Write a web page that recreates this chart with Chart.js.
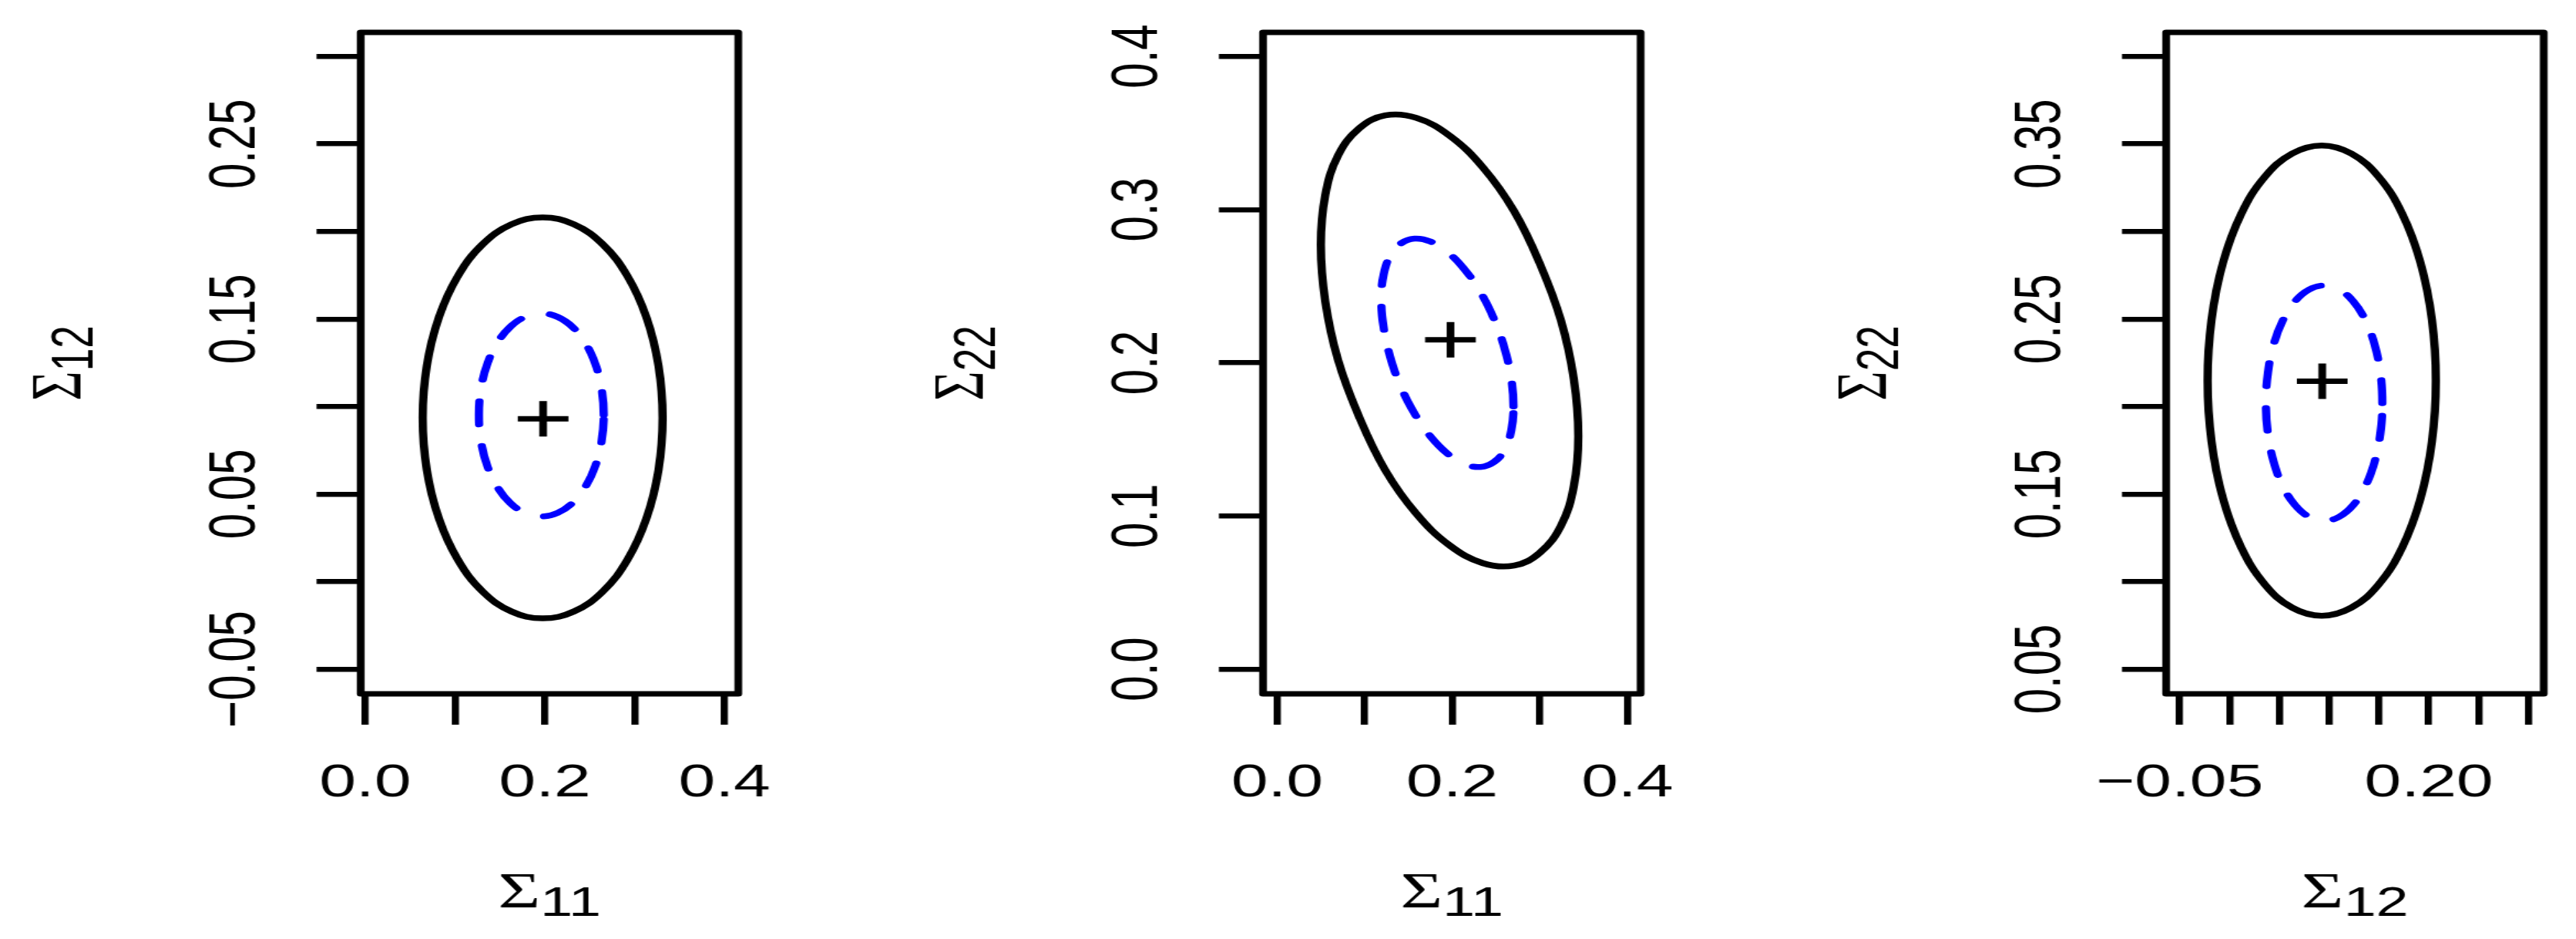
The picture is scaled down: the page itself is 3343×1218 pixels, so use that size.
<!DOCTYPE html>
<html>
<head>
<meta charset="utf-8">
<script src="https://cdn.jsdelivr.net/npm/chart.js@4.4.1/dist/chart.umd.min.js"></script>
<style>
  html, body { margin: 0; padding: 0; background: #fff; overflow: hidden; }
  #page { position: relative; width: 3343px; height: 1218px; }
  canvas { position: absolute; top: 0; }
</style>
</head>
<body>
<div id="page">
  <!-- each panel is drawn 700 wide and stretched to 1001px, like the original picture -->
  <canvas id="panel1" width="700" height="1218" style="left:0px;width:1001px;height:1218px"></canvas>
  <canvas id="panel2" width="700" height="1218" style="left:1171px;width:1001px;height:1218px"></canvas>
  <canvas id="panel3" width="700" height="1218" style="left:2343px;width:1001px;height:1218px"></canvas>
</div>
<script>
// ---- data ----
// panel 1: Sigma11 (x) vs Sigma12 (y)
const p1Outer = [[0.331,0.0935],[0.3265,0.1231],[0.3131,0.1508],[0.2919,0.1745],[0.2643,0.1927],[0.2321,0.2041],[0.1975,0.208],[0.1629,0.2041],[0.1307,0.1927],[0.1031,0.1745],[0.0819,0.1508],[0.0685,0.1231],[0.064,0.0935],[0.0685,0.0639],[0.0819,0.0362],[0.1031,0.0125],[0.1307,-0.0057],[0.1629,-0.0171],[0.1975,-0.021],[0.2321,-0.0171],[0.2643,-0.0057],[0.2919,0.0125],[0.3131,0.0362],[0.3265,0.0639]];
const p1Inner = [[0.2655,0.0952],[0.2631,0.1102],[0.2562,0.1242],[0.2451,0.1362],[0.2308,0.1454],[0.214,0.1512],[0.196,0.1532],[0.178,0.1512],[0.1612,0.1454],[0.1469,0.1362],[0.1358,0.1242],[0.1289,0.1102],[0.1265,0.0952],[0.1289,0.0802],[0.1358,0.0662],[0.1469,0.0542],[0.1612,0.045],[0.178,0.0392],[0.196,0.0372],[0.214,0.0392],[0.2308,0.045],[0.2451,0.0542],[0.2562,0.0662],[0.2631,0.0802]];
const p1Centre = [0.198, 0.093];
const p1XTicks = [0, 0.1, 0.2, 0.3, 0.4];
const p1XLabels = ['0.0', '', '0.2', '', '0.4'];
const p1YTicks = [-0.05, 0, 0.05, 0.1, 0.15, 0.2, 0.25, 0.3];
const p1YLabels = ['\u22120.05', '', '0.05', '', '0.15', '', '0.25', ''];

// panel 2: Sigma11 (x) vs Sigma22 (y)
const p2Outer = [[0.344,0.1522],[0.339,0.1889],[0.3243,0.2274],[0.2999,0.2649],[0.2705,0.2991],[0.235,0.3275],[0.197,0.3482],[0.159,0.3598],[0.1235,0.3614],[0.0941,0.3531],[0.0697,0.3353],[0.055,0.3093],[0.05,0.2768],[0.055,0.2401],[0.0697,0.2016],[0.0941,0.1641],[0.1235,0.1299],[0.159,0.1015],[0.197,0.0808],[0.235,0.0692],[0.2705,0.0676],[0.2999,0.0759],[0.3243,0.0937],[0.339,0.1197]];
const p2Inner = [[0.27,0.1715],[0.2674,0.1897],[0.2599,0.2091],[0.2479,0.2283],[0.2323,0.246],[0.214,0.261],[0.1945,0.2723],[0.175,0.2791],[0.1568,0.281],[0.1411,0.2777],[0.1291,0.2697],[0.1216,0.2573],[0.119,0.2415],[0.1216,0.2233],[0.1291,0.2039],[0.1411,0.1847],[0.1568,0.167],[0.175,0.152],[0.1945,0.1407],[0.214,0.1339],[0.2323,0.132],[0.2479,0.1353],[0.2599,0.1433],[0.2674,0.1557]];
const p2Centre = [0.198, 0.215];
const p2XTicks = [0, 0.1, 0.2, 0.3, 0.4];
const p2XLabels = ['0.0', '', '0.2', '', '0.4'];
const p2YTicks = [0, 0.1, 0.2, 0.3, 0.4];
const p2YLabels = ['0.0', '0.1', '0.2', '0.3', '0.4'];

// panel 3: Sigma12 (x) vs Sigma22 (y)
const p3Outer = [[0.207,0.2148],[0.2031,0.2496],[0.1917,0.282],[0.1735,0.3098],[0.1498,0.3311],[0.1221,0.3445],[0.0925,0.3491],[0.0629,0.3445],[0.0352,0.3311],[0.0115,0.3098],[-0.0067,0.282],[-0.0181,0.2496],[-0.022,0.2148],[-0.0181,0.18],[-0.0067,0.1476],[0.0115,0.1198],[0.0352,0.0985],[0.0629,0.0851],[0.0925,0.0805],[0.1221,0.0851],[0.1498,0.0985],[0.1735,0.1198],[0.1917,0.1476],[0.2031,0.18]];
const p3Inner = [[0.1533,0.2019],[0.1513,0.2193],[0.1455,0.2355],[0.1362,0.2494],[0.1241,0.2601],[0.11,0.2668],[0.0949,0.2691],[0.0798,0.2668],[0.0657,0.2601],[0.0536,0.2494],[0.0443,0.2355],[0.0385,0.2193],[0.0365,0.2019],[0.0385,0.1845],[0.0443,0.1683],[0.0536,0.1544],[0.0657,0.1437],[0.0798,0.137],[0.0949,0.1347],[0.11,0.137],[0.1241,0.1437],[0.1362,0.1544],[0.1455,0.1683],[0.1513,0.1845]];
const p3Centre = [0.093, 0.2145];
const p3XTicks = [-0.05, 0, 0.05, 0.1, 0.15, 0.2, 0.25, 0.3];
const p3XLabels = ['\u22120.05', '', '', '', '', '0.20', '', ''];
const p3YTicks = [0.05, 0.1, 0.15, 0.2, 0.25, 0.3, 0.35, 0.4];
const p3YLabels = ['0.05', '', '0.15', '', '0.25', '', '0.35', ''];

// ---- layout (canvas units) ----
const FONT = '"Liberation Sans", Arial, sans-serif';
const AREA_LEFT = 327.3;
const AREA_RIGHT_PAD = 25.5;
const AREA_TOP = 42;
const X_AXIS_H = 318;
const TICK_LEN = 40;
const Y_LABEL_OFFSET = 113.3; // plot edge to middle of the rotated y labels
const HIDDEN = 'rgba(0,0,0,0)';

// closed curve: one point of overlap on each side so the spline has
// proper neighbours where it closes; the two extra segments are hidden
function loopPoints(pts) {
    const n = pts.length;
    const seq = [pts[n - 1]].concat(pts, [pts[0], pts[1]]);
    return seq.map(([x, y]) => ({ x: x, y: y }));
}

function hideEnds(n) {
    return {
        borderColor: (ctx) => (ctx.p0DataIndex === 0 || ctx.p0DataIndex === n + 1 ? HIDDEN : undefined),
    };
}

function widestLabel(labels) {
    const ctx = document.createElement('canvas').getContext('2d');
    ctx.font = '60px ' + FONT;
    let w = 0;
    labels.forEach((l) => {
        w = Math.max(w, ctx.measureText(l).width);
    });
    return w;
}

// draws "Sigma" with a subscript, centred on (cx, baseY)
function drawSigma(ctx, parts, cx, baseY, angle) {
    ctx.save();
    ctx.translate(cx, baseY);
    ctx.rotate(angle);
    ctx.font = '66px "Liberation Serif", serif';
    const w1 = ctx.measureText(parts[0]).width;
    ctx.font = '53px ' + FONT;
    const w2 = ctx.measureText(parts[1]).width;
    const x0 = -(w1 + w2) / 2;
    ctx.font = '66px "Liberation Serif", serif';
    ctx.fillText(parts[0], x0, 0);
    ctx.font = '53px ' + FONT;
    ctx.fillText(parts[1], x0 + w1, 11);
    ctx.restore();
}

const boxPlugin = {
    id: 'plotBox',
    afterDatasetsDraw(chart) {
        const { ctx, chartArea: a } = chart;
        ctx.save();
        ctx.strokeStyle = '#000';
        ctx.lineWidth = 7;
        ctx.lineJoin = 'round';
        ctx.strokeRect(a.left, a.top, a.right - a.left, a.bottom - a.top);
        ctx.restore();
    },
};

const titlePlugin = {
    id: 'sigmaTitles',
    afterDraw(chart, args, opts) {
        const { ctx, chartArea: a } = chart;
        ctx.save();
        ctx.fillStyle = '#000';
        ctx.textAlign = 'left';
        ctx.textBaseline = 'alphabetic';
        drawSigma(ctx, opts.x, (a.left + a.right) / 2, a.bottom + 277, 0);
        drawSigma(ctx, opts.y, a.left - 254, (a.top + a.bottom) / 2, -Math.PI / 2);
        ctx.restore();
    },
};

function gridOpts() {
    return {
        drawOnChartArea: false,
        drawTicks: true,
        tickLength: TICK_LEN,
        lineWidth: 6.5,
        tickWidth: 6.5,
        color: '#000',
        tickColor: '#000',
    };
}

function makePanel(id, p) {
    const yPad = Y_LABEL_OFFSET - TICK_LEN - widestLabel(p.yLabels) / 2;
    return new Chart(document.getElementById(id), {
        type: 'scatter',
        data: {
            datasets: [
                {
                    data: loopPoints(p.outer),
                    showLine: true,
                    borderColor: '#000',
                    borderWidth: 7.5,
                    borderJoinStyle: 'round',
                    pointRadius: 0,
                    tension: 0.4,
                    segment: hideEnds(p.outer.length),
                },
                {
                    data: loopPoints(p.inner),
                    showLine: true,
                    borderColor: '#0000FF',
                    borderWidth: 7.5,
                    borderDash: [30, 28],
                    borderCapStyle: 'round',
                    pointRadius: 0,
                    tension: 0.4,
                    segment: hideEnds(p.inner.length),
                },
                {
                    data: [{ x: p.centre[0], y: p.centre[1] }],
                    showLine: false,
                    pointStyle: 'cross',
                    pointRadius: 23,
                    pointBorderWidth: 7,
                    pointBorderColor: '#000',
                },
            ],
        },
        options: {
            responsive: false,
            animation: false,
            devicePixelRatio: 1,
            layout: {
                padding: { left: 0, right: AREA_RIGHT_PAD, top: AREA_TOP, bottom: 0 },
            },
            plugins: {
                legend: { display: false },
                tooltip: { enabled: false },
                sigmaTitles: { x: p.xTitle, y: p.yTitle },
            },
            scales: {
                x: {
                    type: 'linear',
                    position: 'bottom',
                    bounds: 'data',
                    min: p.xRange[0],
                    max: p.xRange[1],
                    afterBuildTicks: (s) => {
                        s.ticks = p.xTicks.map((v) => ({ value: v }));
                    },
                    afterFit: (s) => {
                        s.height = X_AXIS_H;
                        s.paddingLeft = 0;
                        s.paddingRight = 0;
                    },
                    grid: gridOpts(),
                    border: { display: false },
                    ticks: {
                        autoSkip: false,
                        minRotation: 0,
                        maxRotation: 0,
                        padding: 40,
                        color: '#000',
                        font: { family: FONT, size: 60 },
                        callback: (v, i) => p.xLabels[i],
                    },
                },
                y: {
                    type: 'linear',
                    position: 'left',
                    bounds: 'data',
                    min: p.yRange[0],
                    max: p.yRange[1],
                    afterBuildTicks: (s) => {
                        s.ticks = p.yTicks.map((v) => ({ value: v }));
                    },
                    afterFit: (s) => {
                        s.width = AREA_LEFT;
                        s.paddingTop = 0;
                        s.paddingBottom = 0;
                    },
                    grid: gridOpts(),
                    border: { display: false },
                    ticks: {
                        autoSkip: false,
                        minRotation: 90,
                        maxRotation: 90,
                        crossAlign: 'center',
                        padding: yPad,
                        color: '#000',
                        font: { family: FONT, size: 60 },
                        callback: (v, i) => p.yLabels[i],
                    },
                },
            },
        },
        plugins: [boxPlugin, titlePlugin],
    });
}

makePanel('panel1', {
    outer: p1Outer, inner: p1Inner, centre: p1Centre,
    xTicks: p1XTicks, xLabels: p1XLabels, yTicks: p1YTicks, yLabels: p1YLabels,
    xRange: [-0.0051, 0.4153], yRange: [-0.0641, 0.3137],
    xTitle: ['\u03A3', '11'], yTitle: ['\u03A3', '12'],
});
makePanel('panel2', {
    outer: p2Outer, inner: p2Inner, centre: p2Centre,
    xTicks: p2XTicks, xLabels: p2XLabels, yTicks: p2YTicks, yLabels: p2YLabels,
    xRange: [-0.0161, 0.4152], yRange: [-0.0161, 0.4156],
    xTitle: ['\u03A3', '11'], yTitle: ['\u03A3', '22'],
});
makePanel('panel3', {
    outer: p3Outer, inner: p3Inner, centre: p3Centre,
    xTicks: p3XTicks, xLabels: p3XLabels, yTicks: p3YTicks, yLabels: p3YLabels,
    xRange: [-0.0637, 0.3153], yRange: [0.0359, 0.4137],
    xTitle: ['\u03A3', '12'], yTitle: ['\u03A3', '22'],
});
</script>
</body>
</html>
